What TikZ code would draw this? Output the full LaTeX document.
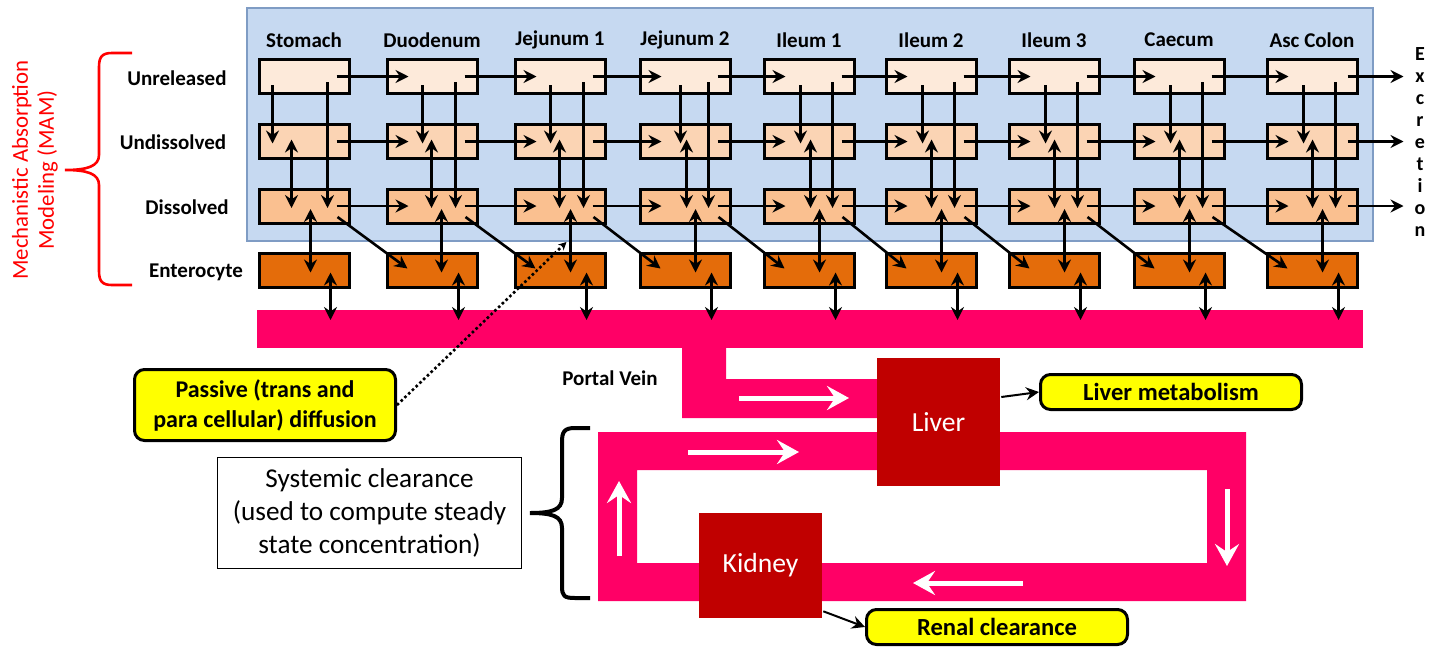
\documentclass[tikz,border=0pt]{standalone}
\usepackage{fontspec}
\setmainfont{Carlito}
\usetikzlibrary{arrows.meta,calc}
\definecolor{cBlue}{HTML}{C6D9F1}
\definecolor{cBlueEdge}{HTML}{7F9CC4}
\definecolor{cUnrel}{HTML}{FDEADA}
\definecolor{cUndis}{HTML}{FBD4B4}
\definecolor{cDis}{HTML}{FAC090}
\definecolor{cEnt}{HTML}{E46C0A}
\definecolor{cPink}{HTML}{FF0066}
\definecolor{cOrgan}{HTML}{C00000}
\definecolor{cRed}{HTML}{FF0000}
\definecolor{cYellow}{HTML}{FFFF00}
\begin{document}
\begin{tikzpicture}[x=0.5pt, y=-0.5pt, line width=1.3pt, font=\bfseries\fontsize{10.5}{12}\selectfont,
  comp/.style={draw, line width=1.5pt, minimum width=45pt, minimum height=17pt, inner sep=0pt},
  arr/.style={-{Stealth[length=6.5pt,width=6.5pt,inset=2.2pt]}},
  darr/.style={{Stealth[length=6.5pt,width=6.5pt,inset=2.2pt]}-{Stealth[length=6.5pt,width=6.5pt,inset=2.2pt]}},
  flow/.style={white, line width=2.5pt, -{Stealth[length=11pt,width=12pt,inset=4pt]}},
  callout/.style={draw, fill=cYellow, rounded corners=5pt, line width=1.5pt, align=center, inner sep=0pt},
  organ/.style={fill=cOrgan, text=white, font=\fontsize{13.8}{15}\selectfont, inner sep=0pt}]
  \useasboundingbox (0,0) rectangle (1429,654);
  \filldraw[fill=cBlue, draw=cBlueEdge, line width=0.6pt] (247,8) rectangle (1373,241);
  % compartments
  \foreach \xl/\lab [count=\i] in {257/Stomach,385/Duodenum,513/Jejunum 1,638/Jejunum 2,762/Ileum 1,884/Ileum 2,1007/Ileum 3,1132/Caecum,1265/Asc Colon}{
    \node (t\i) at (\xl+47,40) {\lab};
    \node[comp, fill=cUnrel] (u\i) at (\xl+47,76.5) {};
    \node[comp, fill=cUndis] (n\i) at (\xl+47,141.5) {};
    \node[comp, fill=cDis] (d\i) at (\xl+47,206) {};
    \node[comp, fill=cEnt] (e\i) at (\xl+47,270.5) {};
  }
  \node (lunrel) at (177,78) {Unreleased};
  \node (lundis) at (173,142) {Undissolved};
  \node (ldis) at (187,207) {Dissolved};
  \node (lent) at (196,272) {Enterocyte};
  \node[font=\bfseries\fontsize{10}{11}\selectfont, align=center] (exc) at (1420,142) {E\\x\\c\\r\\e\\t\\i\\o\\n};
  % blood
  \node[fill=cPink, minimum width=553pt, minimum height=19pt, inner sep=0pt] (bar) at (810,329) {};
  \fill[cPink] (682,347) -- (726,347) -- (726,379) -- (880,379) -- (880,418) -- (682,418) -- cycle;
  \fill[cPink, even odd rule] (598,432) rectangle (1246,601) (637,470) rectangle (1207,563);
  \node[organ, minimum width=61.5pt, minimum height=64pt] (liver) at (938.5,422) {Liver};
  \node[organ, minimum width=61.5pt, minimum height=52.5pt] (kid) at (760.5,565.5) {Kidney};
  \draw[flow] (739,398) -- (849,398);
  \draw[flow] (688,452) -- (799,452);
  \draw[flow] (1227,489) -- (1227,566);
  \draw[flow] (1023,583) -- (913,583);
  \draw[flow] (619,556) -- (619,481);
  \node[font=\bfseries\fontsize{10.5}{12}\selectfont] (pvlab) at (610,378) {Portal Vein};
  % arrows in each segment
  \foreach \i/\da/\db/\dc in {1/15/34/53,2/37/46/56,3/37/46/57,4/42/48/57,5/38/48/57,6/38/47/57,7/38/47/57,8/38/47/57,9/38/47/57}{
    \draw[arr] ($(u\i.south west)+(\da,-10)$) -- ($(n\i.west)+(\da,2)$);
    \draw[arr] ($(u\i.south west)+(70,-13)$) -- ($(d\i.west)+(70,2)$);
    \draw[darr] ($(n\i.west)+(\db,-2)$) -- ($(d\i.west)+(\db,2)$);
    \draw[darr] ($(d\i.west)+(\dc,3)$) -- ($(e\i.west)+(\dc,2)$);
    \draw[darr] ($(e\i.west)+(73,2)$) -- ($(e\i.south west)+(73,31)$);
  }
  \foreach \i [evaluate=\i as \j using int(\i+1)] in {1,...,8}{
    \foreach \r in {u,n,d}
      \draw[arr] ($(\r\i.east)+(-14,0)$) -- ($(\r\j.west)+(23,0)$);
    \draw[arr] ($(d\i.east)+(-13,11)$) -- ($(e\j.west)+(22,-2)$);
  }
  \foreach \r in {u,n,d}
    \draw[arr] ($(\r9.east)+(-11,0)$) -- ($(\r9.east)+(45,0)$);
  % callouts
  \node[callout, minimum width=130.5pt, minimum height=35.5pt, font=\bfseries\fontsize{12}{15}\selectfont] (passive) at (265,405) {Passive (trans and\\para cellular) diffusion};
  \node[callout, minimum width=130.5pt, minimum height=17.5pt, font=\bfseries\fontsize{12.3}{13}\selectfont] (lm) at (1171,392) {Liver metabolism};
  \node[callout, minimum width=130.5pt, minimum height=17.5pt, font=\bfseries\fontsize{12.3}{13}\selectfont] (renal) at (997,627) {Renal clearance};
  \node[draw, line width=0.6pt, minimum width=152pt, minimum height=55.5pt, align=center, font=\fontsize{13.6}{16.5}\selectfont] (sys) at (369.5,513) {Systemic clearance\\(used to compute steady\\state concentration)};
  \draw[dash pattern=on 1.3pt off 1.3pt, line width=1.3pt, -{Stealth[length=4pt,width=4pt]}] (passive.east) -- ($(e3.north west)+(53,-10)$);
  \draw[arr, line width=1pt] ($(liver.east)+(0,-25)$) -- (lm.west);
  \draw[arr, line width=1pt] ($(kid.south east)+(0,-8)$) -- (renal.west);
  % braces
  \draw[line width=2pt] (590,428) -- (575,428) .. controls (564,428) and (562,432) .. (562,442) -- (562,498) .. controls (562,510) and (552,513) .. (530,513) .. controls (552,513) and (562,516) .. (562,528) -- (562,586) .. controls (562,596) and (564,598) .. (575,598) -- (590,598);
  \draw[cRed, line width=1.3pt] (132,53) -- (112,53) .. controls (102,53) and (99,57) .. (99,67) -- (99,155) .. controls (99,166) and (88,170) .. (65,170) .. controls (88,170) and (99,174) .. (99,185) -- (99,271) .. controls (99,281) and (102,285) .. (112,285) -- (132,285);
  \node[rotate=90, text=cRed, font=\fontsize{11.4}{13}\selectfont, align=center] (mam) at (35,170) {Mechanistic Absorption\\Modeling (MAM)};
\end{tikzpicture}
\end{document}
